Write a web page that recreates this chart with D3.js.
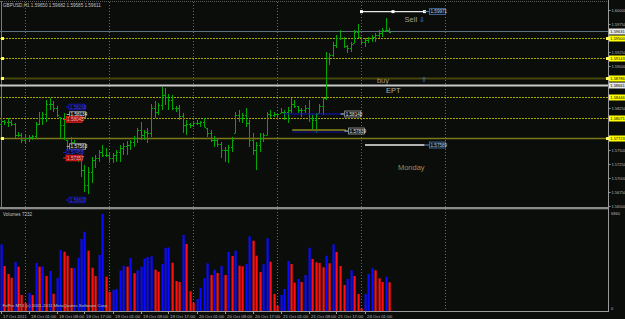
<!DOCTYPE html>
<html>
<head>
<meta charset="utf-8">
<script src="https://cdn.jsdelivr.net/npm/d3@7"></script>
<style>
  html, body { margin: 0; padding: 0; background: #0b0d0b; }
  #graf { width: 625px; height: 319px; }
  text { font-family: "Liberation Sans", Arial, sans-serif; }
</style>
</head>
<body>
<div id="graf"></div>
<script>
// datos GBPUSD H1 (17 Oct 2011 17:00 -> 24 Oct 2011 08:00)
var highs = [1.58107,1.58036,1.58071,1.58036,1.57982,1.57821,1.57804,1.57768,1.57768,1.57768,
  1.58000,1.58179,1.58179,1.58393,1.58429,1.58375,1.58286,1.58089,1.58161,1.57679,
  1.57732,1.57679,1.57571,1.57500,1.57232,1.57196,1.57375,1.57411,1.57500,1.57589,
  1.57536,1.57446,1.57446,1.57500,1.57589,1.57625,1.57661,1.57679,1.57750,1.57893,
  1.58000,1.57857,1.57893,1.58321,1.58375,1.58339,1.58625,1.58607,1.58500,1.58482,
  1.58286,1.58304,1.58161,1.58036,1.57982,1.58018,1.58036,1.58018,1.58071,1.57893,
  1.57857,1.57750,1.57714,1.57643,1.57554,1.57589,1.57732,1.58179,1.58214,1.58161,
  1.58250,1.58036,1.57804,1.57643,1.57804,1.57804,1.58179,1.58214,1.58179,1.58161,
  1.58250,1.58214,1.58268,1.58429,1.58393,1.58286,1.58250,1.58304,1.58393,1.58125,
  1.58161,1.58321,1.58446,1.59250,1.59232,1.59429,1.59554,1.59643,1.59518,1.59375,
  1.59429,1.59643,1.59750,1.59518,1.59500,1.59518,1.59554,1.59589,1.59643,1.59679,
  1.59857,1.59682]
var lows = [1.57929,1.57946,1.57911,1.57929,1.57714,1.57732,1.57625,1.57625,1.57643,1.57679,
  1.57714,1.57946,1.57946,1.58000,1.58214,1.58179,1.58089,1.57714,1.57679,1.57357,
  1.57500,1.57446,1.57286,1.57018,1.56750,1.56714,1.56911,1.57179,1.57286,1.57375,
  1.57375,1.57268,1.57268,1.57286,1.57286,1.57411,1.57411,1.57500,1.57554,1.57625,
  1.57679,1.57679,1.57625,1.57732,1.58071,1.58125,1.58214,1.58304,1.58214,1.58214,
  1.58179,1.58036,1.57804,1.57768,1.57893,1.57911,1.57946,1.57911,1.57911,1.57732,
  1.57643,1.57554,1.57554,1.57357,1.57286,1.57268,1.57464,1.57804,1.58000,1.57982,
  1.57911,1.57554,1.57411,1.57143,1.57464,1.57643,1.57768,1.58071,1.58089,1.58036,
  1.58161,1.58036,1.57982,1.58161,1.58250,1.58161,1.58089,1.58161,1.58000,1.57857,
  1.57804,1.58161,1.58125,1.58393,1.59018,1.59161,1.59321,1.59464,1.59321,1.59232,
  1.59250,1.59411,1.59500,1.59375,1.59339,1.59411,1.59429,1.59429,1.59500,1.59518,
  1.59607,1.59585]
var closes = [1.58018,1.58000,1.58000,1.57964,1.57768,1.57768,1.57679,1.57714,1.57732,1.57750,
  1.57964,1.58071,1.58143,1.58321,1.58321,1.58250,1.58125,1.57946,1.57714,1.57500,
  1.57643,1.57500,1.57411,1.57143,1.56875,1.57107,1.57321,1.57357,1.57464,1.57411,
  1.57411,1.57357,1.57411,1.57464,1.57536,1.57571,1.57589,1.57643,1.57714,1.57857,
  1.57768,1.57821,1.57804,1.58250,1.58179,1.58304,1.58482,1.58446,1.58393,1.58250,
  1.58250,1.58107,1.57946,1.57964,1.57946,1.57982,1.57982,1.58000,1.57911,1.57804,
  1.57679,1.57679,1.57607,1.57500,1.57500,1.57554,1.57679,1.58125,1.58071,1.58125,
  1.57982,1.57679,1.57500,1.57589,1.57714,1.57768,1.58143,1.58125,1.58143,1.58143,
  1.58179,1.58179,1.58214,1.58321,1.58286,1.58214,1.58214,1.58250,1.58071,1.58036,
  1.58143,1.58286,1.58429,1.59143,1.59196,1.59375,1.59500,1.59500,1.59357,1.59321,
  1.59393,1.59607,1.59518,1.59429,1.59464,1.59500,1.59518,1.59554,1.59589,1.59643,
  1.59650,1.59611]
var firstOpen = 1.57964
var volumes = [4670,3150,2590,2330,3430,3100,1120,560,1260,1110,
  3360,3100,3130,2450,2800,1210,2310,4270,4150,3870,
  3010,3030,3730,5040,5550,4220,3030,2450,3920,6790,
  2400,1330,1470,1540,2820,3150,3100,3710,2640,2850,
  3100,3660,3780,3830,2890,2750,3290,4410,4450,3380,
  2100,2030,5320,4690,1380,580,840,1630,2290,3340,
  2520,2890,2660,3150,2520,4130,3850,4220,3170,3130,
  3290,5230,4920,3870,2730,3270,5090,3450,1190,370,
  1120,1540,3500,3290,1980,2240,2030,2520,4430,3640,
  3410,3360,3060,3870,3340,4670,4130,3150,1820,2240,
  2850,2450,1190,190,1190,2590,2990,2850,2290,2030,
  2400,2010]

var timeLabels = ['17 Oct 2011','18 Oct 01:00','18 Oct 09:00','18 Oct 17:00','19 Oct 01:00',
  '19 Oct 09:00','19 Oct 17:00','20 Oct 01:00','20 Oct 09:00','20 Oct 17:00',
  '21 Oct 01:00','21 Oct 09:00','21 Oct 17:00','24 Oct 01:00']
var dayStarts = [7, 31, 55, 79, 103, 127]
var priceTicks = [1.60000,1.59750,1.59500,1.59250,1.59000,1.58750,1.58500,1.58250,
  1.58000,1.57750,1.57500,1.57250,1.57000,1.56750,1.56500]

// lineas horizontales
var levels = [
  { price: 1.59631, kind: 'bid' },
  { price: 1.59500, kind: 'yellow', mark: true },
  { price: 1.59143, kind: 'yellow', mark: true },
  { price: 1.58786, kind: 'olive', mark: true },
  { price: 1.58661, kind: 'white' },
  { price: 1.58446, kind: 'yellow' },
  { price: 1.58071, kind: 'yellow' },
  { price: 1.57723, kind: 'olive2', mark: true }
]
// objetos con etiqueta de precio
var targets = [
  { price: 1.59971, from: 103, to: 121, dots: [103, 112, 121] },
  { price: 1.57589, from: 104, to: 121, dots: [] }
]
var objLabels = [
  { idx: 19.4, price: 1.58268, kind: 'blue' },
  { idx: 19.6, price: 1.58134, kind: 'grey' },
  { idx: 18.6, price: 1.58045, kind: 'red' },
  { idx: 19.6, price: 1.57563, kind: 'grey' },
  { idx: 18.6, price: 1.57455, kind: 'blue' },
  { idx: 18.6, price: 1.57357, kind: 'red' },
  { idx: 19.4, price: 1.56607, kind: 'blue' }
]
var header = 'GBPUSD,H1  1.59650 1.59682 1.59585 1.59611'
var volTitle = 'Volumes 7232'
var copyright = 'FxPro MT4 (c) 2001-2011 MetaQuotes Software Corp.'

var W = 625, H = 319
var svg = d3.select('#graf').append('svg').attr('width', W).attr('height', H)
svg.append('rect').attr('width', W).attr('height', H).attr('fill', '#0b0d0b')

// escalas
var x = d3.scaleLinear().domain([0, 173]).range([1, 606.5])
var y = d3.scaleLinear().domain([1.565, 1.600]).range([206, 10])
var yVol = d3.scaleLinear().domain([0, 6860]).range([311, 213])
var fmt = d3.format('.5f')
var px = k => Math.floor(x(k)) + 0.5
var axisFont = '4px'

// rejilla vertical punteada
svg.append('g').selectAll('line').data(dayStarts).join('line')
  .attr('x1', d => px(d)).attr('x2', d => px(d))
  .attr('y1', 2).attr('y2', 311)
  .attr('stroke', '#6a6a6a').attr('stroke-dasharray', '1,2')

// marco
svg.append('line').attr('x1', 0).attr('x2', 608).attr('y1', 1.5).attr('y2', 1.5)
  .attr('stroke', '#5a5a5a').attr('stroke-dasharray', '1,1')
svg.append('line').attr('x1', 1.5).attr('x2', 1.5).attr('y1', 1).attr('y2', 207)
  .attr('stroke', '#7a7a7a')
svg.append('rect').attr('x', 0).attr('y', 207).attr('width', 608).attr('height', 2.3)
  .attr('fill', '#8a8a8a')
svg.append('line').attr('x1', 0).attr('x2', 609).attr('y1', 311.5).attr('y2', 311.5)
  .attr('stroke', '#9a9a9a')
svg.append('line').attr('x1', 608.5).attr('x2', 608.5).attr('y1', 0).attr('y2', 312)
  .attr('stroke', '#9a9a9a')

// niveles
var levelStyle = {
  bid:    { c: '#5f7080', w: 1, dash: null },
  yellow: { c: '#a8a800', w: 1, dash: '2,1' },
  olive:  { c: '#46460a', w: 2, dash: null },
  white:  { c: '#c8c8c8', w: 2, dash: null },
  olive2: { c: '#7a7a1a', w: 1.5, dash: null }
}
var gLev = svg.append('g')
gLev.selectAll('line').data(levels).join('line')
  .attr('x1', 0).attr('x2', 608)
  .attr('y1', d => Math.round(y(d.price)) + 0.5).attr('y2', d => Math.round(y(d.price)) + 0.5)
  .attr('stroke', d => levelStyle[d.kind].c)
  .attr('stroke-width', d => levelStyle[d.kind].w)
  .attr('stroke-dasharray', d => levelStyle[d.kind].dash)
gLev.selectAll('rect.mk').data(levels.filter(d => d.mark)).join('rect')
  .attr('class', 'mk')
  .attr('x', 1).attr('y', d => Math.round(y(d.price)) - 1)
  .attr('width', 3).attr('height', 3).attr('fill', '#ffff60')
gLev.selectAll('rect.mk2').data(levels.filter(d => d.mark)).join('rect')
  .attr('class', 'mk2')
  .attr('x', 606).attr('y', d => Math.round(y(d.price)) - 1)
  .attr('width', 3).attr('height', 3).attr('fill', '#ffff60')

// eje de precios (se omiten las marcas tapadas por etiquetas de nivel)
var freeTicks = priceTicks.filter(p => levels.every(l => Math.abs(y(p) - y(l.price)) > 5.5))
var yAxis = d3.axisRight(y).tickValues(freeTicks).tickFormat(fmt).tickSize(2).tickPadding(1)
var gY = svg.append('g').attr('transform', 'translate(608.5,0)').call(yAxis)
gY.select('.domain').remove()
gY.selectAll('line').attr('stroke', '#9a9a9a')
gY.selectAll('text').attr('fill', '#b8b8b8').style('font-size', axisFont)

// barras OHLC
var gBars = svg.append('g').attr('stroke', '#00a800').attr('stroke-width', 1).attr('fill', 'none')
var idx = d3.range(highs.length)
var clamp = (v, k) => Math.max(lows[k], Math.min(highs[k], v))
gBars.selectAll('path').data(idx).join('path')
  .attr('d', k => {
    var cx = px(k)
    var o = clamp(k === 0 ? firstOpen : closes[k - 1], k)
    var yo = Math.round(y(o)) + 0.5, yc = Math.round(y(closes[k])) + 0.5
    return 'M' + cx + ',' + y(highs[k]) + 'V' + y(lows[k]) +
      'M' + (cx - 1.5) + ',' + yo + 'H' + cx +
      'M' + cx + ',' + yc + 'H' + (cx + 1.5)
  })

// volumen
var gVol = svg.append('g')
gVol.selectAll('rect').data(idx).join('rect')
  .attr('x', k => Math.floor(x(k)) - 0.5)
  .attr('width', 2.2)
  .attr('y', k => yVol(volumes[k]))
  .attr('height', k => yVol(0) - yVol(volumes[k]))
  .attr('fill', k => (k === 0 || volumes[k] > volumes[k - 1]) ? '#0a0aff' : '#ff1010')

svg.append('text').attr('x', 611).attr('y', 215).attr('fill', '#b8b8b8')
  .style('font-size', axisFont).text(yVol.domain()[1])
svg.append('text').attr('x', 611).attr('y', 310).attr('fill', '#b8b8b8')
  .style('font-size', axisFont).text('0')

// eje de tiempo
var gX = svg.append('g')
gX.selectAll('line').data(timeLabels).join('line')
  .attr('x1', (d, i) => px(i * 8)).attr('x2', (d, i) => px(i * 8))
  .attr('y1', 311).attr('y2', 314).attr('stroke', '#9a9a9a')
gX.selectAll('text').data(timeLabels).join('text')
  .attr('x', (d, i) => px(i * 8) + 1.5).attr('y', 317.5)
  .attr('fill', '#b8b8b8').style('font-size', '4.4px').text(d => d)

// lineas de objetivo (Sell / Monday)
var gObj = svg.append('g')
targets.forEach(t => {
  var ty = y(t.price)
  gObj.append('line').attr('x1', x(t.from)).attr('x2', x(t.to)).attr('y1', ty).attr('y2', ty)
    .attr('stroke', '#e8e8e8').attr('stroke-width', 1.4)
  t.dots.forEach(k => {
    gObj.append('rect').attr('x', x(k) - 1.5).attr('y', ty - 1.5).attr('width', 3).attr('height', 3)
      .attr('fill', '#ffffff')
  })
  gObj.append('line').attr('x1', x(t.to)).attr('x2', x(t.to) + 5).attr('y1', ty).attr('y2', ty)
    .attr('stroke', '#5a8ac0')
  gObj.append('rect').attr('x', x(t.to) + 5).attr('y', ty - 3).attr('width', 16).attr('height', 6)
    .attr('fill', '#0d1824').attr('stroke', '#4a78a8').attr('stroke-width', 0.8)
  gObj.append('text').attr('x', x(t.to) + 6).attr('y', ty + 1.7).attr('fill', '#b0c8e0')
    .style('font-size', '4.6px').text(fmt(t.price))
})

// lineas del centro
var midLines = [
  { price: 1.58143, from: 80.6, to: 97.6, c: '#1414c8', w: 1 },
  { price: 1.57857, from: 83.2, to: 98.5, c: '#6a6a14', w: 2 },
  { price: 1.57821, from: 83.2, to: 98.5, c: '#1010a0', w: 1 }
]
midLines.forEach(m => {
  gObj.append('line').attr('x1', x(m.from)).attr('x2', x(m.to))
    .attr('y1', y(m.price)).attr('y2', y(m.price)).attr('stroke', m.c).attr('stroke-width', m.w)
})
;[{ price: 1.58143, idx: 98.2 }, { price: 1.57839, idx: 99.3 }].forEach(b => {
  var by = y(b.price)
  gObj.append('line').attr('x1', x(b.idx) - 4).attr('x2', x(b.idx)).attr('y1', by).attr('y2', by)
    .attr('stroke', '#d0d0d0')
  gObj.append('rect').attr('x', x(b.idx)).attr('y', by - 3).attr('width', 16).attr('height', 6)
    .attr('fill', '#101010').attr('stroke', '#a0a0a0').attr('stroke-width', 0.8)
  gObj.append('text').attr('x', x(b.idx) + 1).attr('y', by + 1.7).attr('fill', '#e0e0e0')
    .style('font-size', '4.6px').text(fmt(b.price))
})

// etiquetas de la izquierda
var labStyle = {
  blue: { stroke: '#1a1ad0', fill: '#0b0d0b', txt: '#3a3aff' },
  grey: { stroke: '#a8a8a8', fill: '#141414', txt: '#e8e8e8' },
  red:  { stroke: '#ff2020', fill: '#901010', txt: '#ffb0b0' }
}
objLabels.forEach(l => {
  var s = labStyle[l.kind], ly = y(l.price), lx = x(l.idx)
  gObj.append('line').attr('x1', lx - 3).attr('x2', lx).attr('y1', ly).attr('y2', ly)
    .attr('stroke', s.stroke)
  gObj.append('rect').attr('x', lx).attr('y', ly - 2.8).attr('width', 16).attr('height', 5.6)
    .attr('fill', s.fill).attr('stroke', s.stroke).attr('stroke-width', 0.8)
  gObj.append('text').attr('x', lx + 1).attr('y', ly + 1.6).attr('fill', s.txt)
    .style('font-size', '4.6px').text(fmt(l.price))
})

// etiquetas de nivel a la derecha
var gLab = svg.append('g')
levels.forEach(d => {
  var ly = Math.round(y(d.price)) + 0.5
  var isYellow = d.kind !== 'bid' && d.kind !== 'white'
  gLab.append('rect').attr('x', 609).attr('y', ly - 3).attr('width', 17).attr('height', 6)
    .attr('fill', isYellow ? '#ffff00' : '#e6e6e6')
  gLab.append('text').attr('x', 610.3).attr('y', ly + 1.5).attr('fill', '#000')
    .style('font-size', axisFont).text(fmt(d.price))
})

// textos
svg.append('text').attr('x', x(115.3)).attr('y', 21.5).attr('fill', '#a8a088')
  .style('font-size', '7.5px').text('Sell')
svg.append('text').attr('x', x(119.5)).attr('y', 21.5).attr('fill', '#5a88c8')
  .style('font-size', '6.5px').text('⇩')
svg.append('text').attr('x', x(107.4)).attr('y', 82.5).attr('fill', '#9a9680')
  .style('font-size', '7.5px').text('buy')
svg.append('text').attr('x', x(120)).attr('y', 82).attr('fill', '#5a88c8')
  .style('font-size', '6.5px').text('⇧')
svg.append('text').attr('x', x(110)).attr('y', 92.5).attr('fill', '#b4b0a0')
  .style('font-size', '7.5px').text('EPT')
svg.append('text').attr('x', x(113.4)).attr('y', 169.5).attr('fill', '#9c8c5c')
  .style('font-size', '7.5px').text('Monday')

svg.append('text').attr('x', 3).attr('y', 7).attr('fill', '#c0c0c0')
  .style('font-size', '4.6px').text(header)
svg.append('text').attr('x', 3).attr('y', 215.5).attr('fill', '#c0c0c0')
  .style('font-size', '4.6px').text(volTitle)
svg.append('text').attr('x', 2.5).attr('y', 307).attr('fill', '#c0c0c0')
  .style('font-size', '4.4px').text(copyright)
</script>
</body>
</html>
